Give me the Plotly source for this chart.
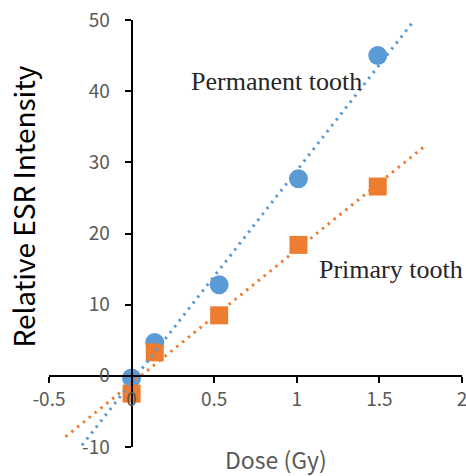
import numpy as np
import plotly.graph_objects as go

# ---- data ----
dose = [0.0, 0.14, 0.53, 1.01, 1.49]
esr_permanent = [-0.3, 4.7, 12.8, 27.7, 45.0]
esr_primary = [-2.5, 3.3, 8.5, 18.4, 26.6]
x_ticks = [-0.5, 0, 0.5, 1, 1.5, 2]
x_tick_labels = ["-0.5", "0", "0.5", "1", "1.5", "2"]
y_ticks = [-10, 0, 10, 20, 30, 40, 50]
y_tick_labels = ["-10", "0", "10", "20", "30", "40", "50"]
# trendline extents (forecast backward / forward, as in the spreadsheet trendline)
perm_trend_range = [-0.30, 1.70]
prim_trend_range = [-0.40, 1.78]

BLUE = "#5B9BD5"
ORANGE = "#ED7D31"
GREY = "#595959"
TICKFONT = dict(family="Noto Sans CJK JP", size=19, color=GREY)


def trend(xs, ys, xr):
    m, b = np.polyfit(xs, ys, 1)
    tx = np.array(xr)
    return tx, m * tx + b


fig = go.Figure()
fig.add_trace(go.Scatter(x=dose, y=esr_permanent, mode="markers",
                         marker=dict(symbol="circle", size=19, color=BLUE),
                         name="Permanent tooth", cliponaxis=False))
fig.add_trace(go.Scatter(x=dose, y=esr_primary, mode="markers",
                         marker=dict(symbol="square", size=18, color=ORANGE),
                         name="Primary tooth", cliponaxis=False))
tx, ty = trend(dose, esr_permanent, perm_trend_range)
fig.add_trace(go.Scatter(x=tx, y=ty, mode="lines",
                         line=dict(color=BLUE, width=3, dash="2.5px,5px"),
                         showlegend=False, cliponaxis=False))
tx, ty = trend(dose, esr_primary, prim_trend_range)
fig.add_trace(go.Scatter(x=tx, y=ty, mode="lines",
                         line=dict(color=ORANGE, width=3, dash="2.5px,5px"),
                         showlegend=False, cliponaxis=False))

fig.update_layout(
    width=466, height=476,
    margin=dict(l=49, r=4, t=20, b=29, autoexpand=False),
    paper_bgcolor="white", plot_bgcolor="white",
    showlegend=False,
    xaxis=dict(range=[-0.5, 2], tickvals=x_ticks, ticktext=x_tick_labels,
               anchor="free", position=1/6, automargin=False,
               showline=True, linecolor="black", linewidth=2,
               ticks="outside", ticklen=6, tickwidth=2, tickcolor="black",
               showgrid=False, zeroline=False, tickfont=TICKFONT,
               ticklabelstandoff=0, ticklabeloverflow="allow"),
    yaxis=dict(range=[-10, 50], tickvals=y_ticks, ticktext=y_tick_labels,
               anchor="free", position=0.2, automargin=False,
               showline=True, linecolor="black", linewidth=2,
               ticks="outside", ticklen=6, tickwidth=2, tickcolor="black",
               showgrid=False, zeroline=False, tickfont=TICKFONT,
               ticklabelstandoff=11, ticklabeloverflow="allow"),
    annotations=[
        dict(text="Relative ESR Intensity", xref="paper", yref="paper",
             x=-0.062, y=0.564, textangle=-90, showarrow=False,
             xanchor="center", yanchor="middle",
             font=dict(family="Noto Sans CJK JP", size=28, color="black")),
        dict(text="Dose (Gy)", xref="paper", yref="paper",
             x=0.55, y=-0.027, showarrow=False,
             xanchor="center", yanchor="middle",
             font=dict(family="Noto Sans CJK JP", size=23, color=GREY)),
        dict(text="Permanent tooth", xref="x", yref="y",
             x=0.88, y=41.4, showarrow=False,
             xanchor="center", yanchor="middle",
             font=dict(family="Liberation Serif", size=26, color="#262626")),
        dict(text="Primary tooth", xref="x", yref="y",
             x=1.57, y=15.0, showarrow=False,
             xanchor="center", yanchor="middle",
             font=dict(family="Liberation Serif", size=26, color="#262626")),
    ],
)

fig.write_html("out.html")
